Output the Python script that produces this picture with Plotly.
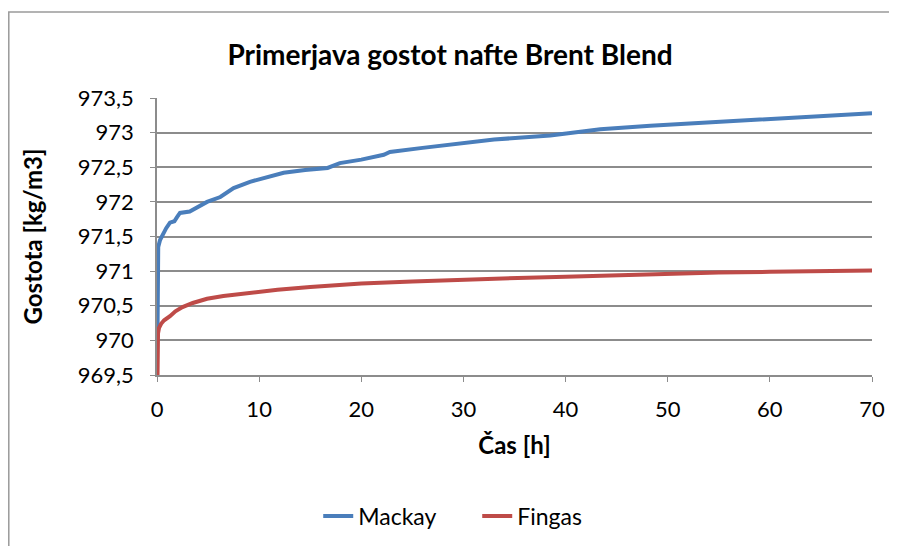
import plotly.graph_objects as go

# Mackay
mackay_t = [0.05, 0.1, 0.12, 0.3, 0.6, 0.9, 1.27, 1.7, 1.96, 2.25, 3.2, 4.0, 4.9, 6.2, 7.5, 9.1,
            11.8, 12.4, 14.5, 16.7, 17.9, 20.0, 22.2, 22.8, 26.0, 29.7, 33.0, 38.5, 41.0,
            43.4, 48.3, 52.0, 56.5, 60.0, 65.0, 70.0]
mackay_rho = [970.1, 970.6, 971.35, 971.45, 971.55, 971.62, 971.7, 971.72, 971.78, 971.84, 971.86,
              971.93, 972.0, 972.07, 972.2, 972.29, 972.39, 972.42, 972.46, 972.49, 972.56, 972.61,
              972.68, 972.72, 972.78, 972.85, 972.9, 972.96, 973.0, 973.05, 973.1, 973.13, 973.16,
              973.2, 973.24, 973.28]

# Fingas
fingas_t = [0.05, 0.07, 0.1, 0.2, 0.4, 0.7, 1.0, 1.27, 1.8, 2.5, 3.5, 4.9, 6.5, 8.1, 11.8, 15.0,
            20.0, 25.0, 30.0, 35.3, 40.0, 48.3, 55.0, 60.0, 65.0, 70.0]
fingas_rho = [969.47, 969.8, 970.1, 970.18, 970.24, 970.29, 970.32, 970.35, 970.42, 970.48, 970.54,
              970.6, 970.64, 970.67, 970.73, 970.77, 970.82, 970.85, 970.88, 970.9, 970.92, 970.96,
              970.98, 970.99, 971.0, 971.01]

y_ticks = [969.5, 970, 970.5, 971, 971.5, 972, 972.5, 973, 973.5]
x_ticks = [0, 10, 20, 30, 40, 50, 60, 70]

font = 'Lato, Carlito, Calibri, sans-serif'

fig = go.Figure()
fig.add_trace(go.Scatter(x=mackay_t, y=mackay_rho, mode='lines', name='Mackay',
                         line=dict(color='#4a7ebb', width=4)))
fig.add_trace(go.Scatter(x=fingas_t, y=fingas_rho, mode='lines', name='Fingas',
                         line=dict(color='#be4b48', width=4)))

# the page body adds 8px, so the margins are shifted by that
fig.update_layout(
    width=897, height=546,
    margin=dict(l=149, r=33, t=90, b=179),
    paper_bgcolor='white', plot_bgcolor='white',
    separators=', ',
    font=dict(family=font, size=22, color='black'),
    title=dict(text='<b>Primerjava gostot nafte Brent Blend</b>', x=(450 - 8) / 897,
               xanchor='center', y=1 - 47 / 546, yanchor='middle', font=dict(size=28)),
    showlegend=True,
    legend=dict(orientation='h', x=(318 - 157) / 714, xanchor='left', y=-0.509,
                yanchor='middle', font=dict(size=23), traceorder='normal',
                entrywidth=114),
)

fig.update_xaxes(range=[0, 70], tickvals=x_ticks, showgrid=False, showline=True,
                 linecolor='#8c8c8c', linewidth=1.5, ticks='outside', ticklen=5,
                 tickcolor='#8c8c8c', zeroline=False, ticklabelstandoff=9,
                 title=dict(text='<b>Čas [h]</b>', standoff=16,
                            font=dict(family=font, size=24, color='black')))
fig.update_yaxes(range=[969.5, 973.5], tickvals=y_ticks, showgrid=True, gridcolor='#8c8c8c',
                 gridwidth=1.5, showline=True, linecolor='#8c8c8c', linewidth=1.5,
                 ticks='outside', ticklen=5, tickcolor='#8c8c8c', zeroline=False,
                 ticklabelstandoff=12,
                 title=dict(text='<b>Gostota [kg/m3]</b>', standoff=28,
                            font=dict(family=font, size=24, color='black')))

# chart area border
fig.add_shape(type='rect', xref='paper', yref='paper', x0=(1 - 149) / 714, x1=1.2,
              y0=-0.8, y1=1 + 86 / 277, line=dict(color='#9a9a9a', width=1.5), layer='below')

fig.write_html("out.html")
